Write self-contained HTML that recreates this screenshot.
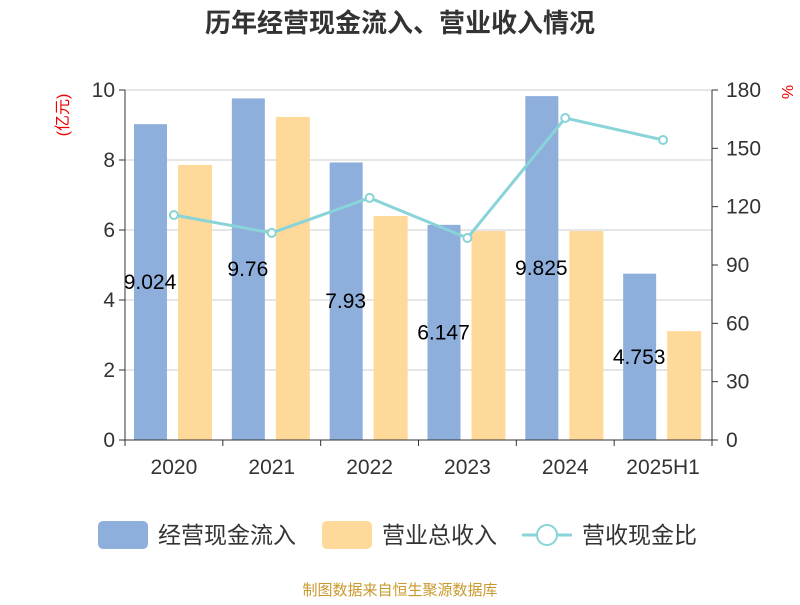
<!DOCTYPE html>
<html><head><meta charset="utf-8"><style>
body{margin:0;background:#fff;}
svg text{font-family:"Liberation Sans","Noto Sans CJK SC",sans-serif;}
</style></head><body>
<svg id="c" width="800" height="600" xmlns="http://www.w3.org/2000/svg"></svg>
<script>
const categories=["2020","2021","2022","2023","2024","2025H1"];
const cashIn=[9.024,9.76,7.93,6.147,9.825,4.753];
const cashLabels=["9.024","9.76","7.93","6.147","9.825","4.753"];
const revenue=[7.86,9.23,6.4,5.97,5.97,3.11];
const ratio=[115.7,106.5,124.5,103.9,165.6,154.3];
const leftTicks=[0,2,4,6,8,10];
const rightTicks=[0,30,60,90,120,150,180];

const svg=document.getElementById('c');
const NS='http://www.w3.org/2000/svg';
function mk(tag,attrs,name,parent){const e=document.createElementNS(NS,tag);for(const k in attrs)e.setAttribute(k,attrs[k]);


(parent||svg).appendChild(e);return e;}
const X0=125,X1=712,Y0=440,Y1=90;
const cw=(X1-X0)/categories.length;
const yL=v=>Y0-(v/10)*(Y0-Y1);
const yR=v=>Y0-(v/180)*(Y0-Y1);
const cx=i=>X0+cw*i;

let t=mk('text',{x:400,y:32,'text-anchor':'middle','font-size':26,'font-weight':'bold',fill:'#333'},'chart-title');t.textContent='历年经营现金流入、营业收入情况';
leftTicks.forEach(v=>{
 mk('line',{x1:X0,x2:X1,y1:yL(v),y2:yL(v),stroke:'#ccc','stroke-width':1},'gridline');
 mk('line',{x1:X0-6,x2:X0,y1:yL(v),y2:yL(v),stroke:'#333'},'left-tick');
 const s=mk('text',{x:X0-10,y:yL(v)+7,'text-anchor':'end','font-size':21,fill:'#333'},'left-tick-label');s.textContent=v;
});
rightTicks.forEach(v=>{
 mk('line',{x1:X1,x2:X1+6,y1:yR(v),y2:yR(v),stroke:'#333'},'right-tick');
 const s=mk('text',{x:X1+14,y:yR(v)+7,'font-size':21,fill:'#333'},'right-tick-label');s.textContent=v;
});
t=mk('text',{x:68,y:115,'font-size':16,fill:'#e00','text-anchor':'middle',transform:'rotate(-90 68 115)'},'left-axis-unit');t.textContent='(亿元)';
t=mk('text',{x:782,y:92,'font-size':16,fill:'#e00','text-anchor':'middle',transform:'rotate(90 782 92)'},'right-axis-unit');t.textContent='%';
categories.forEach((c,i)=>{
 const b=cx(i);
 mk('rect',{x:b+9,y:yL(cashIn[i]),width:33,height:Y0-yL(cashIn[i]),fill:'#8eaedb'},'cash-in-bar');
 mk('rect',{x:b+53,y:yL(revenue[i]),width:34,height:Y0-yL(revenue[i]),fill:'#ffd999'},'revenue-bar');
 const s=mk('text',{x:b+25,y:(yL(cashIn[i])+Y0)/2+7,'text-anchor':'middle','font-size':21,fill:'#000'},'cash-in-value-label');s.textContent=cashLabels[i];
 const l=mk('text',{x:b+cw/2,y:474,'text-anchor':'middle','font-size':21,fill:'#333'},'x-tick-label');l.textContent=c;
});
mk('line',{x1:X0,x2:X0,y1:Y1,y2:Y0,stroke:'#333'},'left-axis');
mk('line',{x1:X1,x2:X1,y1:Y1,y2:Y0,stroke:'#333'},'right-axis');
mk('line',{x1:X0,x2:X1,y1:Y0,y2:Y0,stroke:'#333'},'x-axis');
for(let i=0;i<=categories.length;i++)mk('line',{x1:cx(i),x2:cx(i),y1:Y0,y2:Y0+6,stroke:'#333'},'x-tick');
mk('polyline',{points:ratio.map((v,i)=>(cx(i)+cw/2)+','+yR(v)).join(' '),fill:'none',stroke:'#88d4d8','stroke-width':3},'ratio-line');
ratio.forEach((v,i)=>mk('circle',{cx:cx(i)+cw/2,cy:yR(v),r:4,fill:'#fff',stroke:'#88d4d8','stroke-width':2},'ratio-point'));
// legend
mk('rect',{x:98,y:521,width:50,height:28,rx:5,fill:'#8eaedb'},'legend-cash-in-swatch');
t=mk('text',{x:158,y:543,'font-size':23,fill:'#333'},'legend-cash-in');t.textContent='经营现金流入';
mk('rect',{x:322,y:521,width:50,height:28,rx:5,fill:'#ffd999'},'legend-revenue-swatch');
t=mk('text',{x:382,y:543,'font-size':23,fill:'#333'},'legend-revenue');t.textContent='营业总收入';
mk('line',{x1:522,x2:572,y1:535,y2:535,stroke:'#88d4d8','stroke-width':3},'legend-ratio-line');
mk('circle',{cx:547,cy:535,r:10,fill:'#fff',stroke:'#88d4d8','stroke-width':2},'legend-ratio-marker');
t=mk('text',{x:582,y:543,'font-size':23,fill:'#333'},'legend-ratio');t.textContent='营收现金比';
t=mk('text',{x:400,y:595,'text-anchor':'middle','font-size':15,fill:'#c9992e'},'source-footer');t.textContent='制图数据来自恒生聚源数据库';
</script>
</body></html>
